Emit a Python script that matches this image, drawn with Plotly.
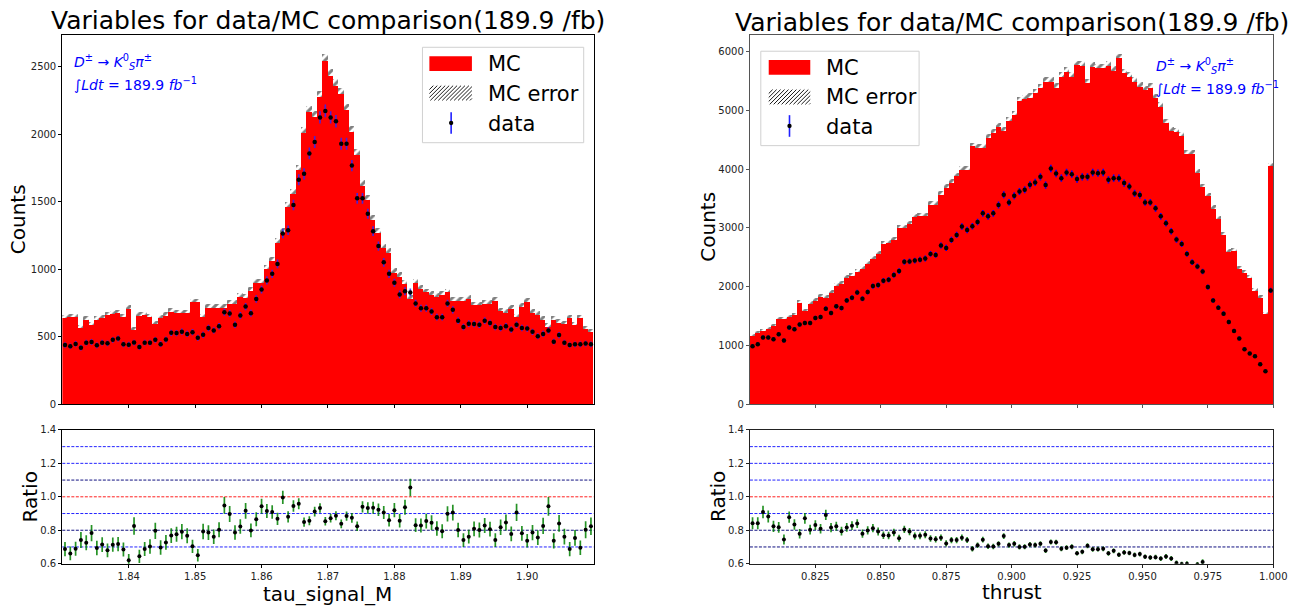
import numpy as np
import plotly.graph_objects as go

W, H = 1314, 610

# ---------------- data: tau_signal_M (left) ----------------
m_lo, m_hi, m_nbins = 1.83, 1.91, 100
mc_m = [640, 650, 650, 566, 630, 590, 630, 640, 665, 670,
        680, 650, 712, 555, 660, 665, 650, 600, 640, 660,
        690, 680, 680, 680, 760, 760, 650, 720, 720, 720,
        720, 750, 750, 800, 790, 845, 901, 901, 1003, 1064,
        1198, 1271, 1465, 1562, 1737, 2012, 2170, 2133, 2279, 2546,
        2437, 2364, 2303, 2182, 2024, 1853, 1623, 1514, 1373, 1271,
        1161, 1125, 979, 950, 894, 785, 901, 860, 833, 814,
        797, 814, 833, 773, 773, 773, 785, 736, 736, 748,
        748, 773, 692, 683, 712, 651, 724, 761, 683, 668,
        632, 580, 630, 610, 600, 640, 590, 640, 560, 540]
data_m = [440, 430, 448, 420, 457, 462, 437, 457, 452, 478,
          488, 445, 442, 458, 425, 457, 457, 478, 446, 480,
          530, 528, 538, 522, 535, 494, 515, 566, 548, 578,
          683, 673, 590, 658, 724, 675, 780, 850, 918, 967,
          1040, 1266, 1290, 1477, 1664, 1708, 1859, 1944, 2126, 2174,
          2126, 2097, 1931, 1931, 1769, 1526, 1526, 1412, 1283, 1173,
          1052, 967, 901, 814, 838, 829, 748, 712, 712, 688,
          646, 646, 748, 700, 620, 573, 598, 595, 590, 620,
          603, 573, 566, 578, 554, 590, 566, 561, 537, 505,
          522, 547, 464, 513, 457, 440, 445, 445, 450, 445]

# ---------------- data: thrust (right) ----------------
t_lo, t_hi, t_nbins = 0.80, 1.00, 100
mc_t = [1175, 1215, 1249, 1288, 1344, 1458, 1458, 1486, 1531, 1740,
        1588, 1723, 1768, 1836, 1825, 1904, 2023, 2062, 2164, 2192,
        2266, 2305, 2390, 2475, 2559, 2729, 2757, 2797, 3011, 3011,
        3068, 3192, 3209, 3209, 3407, 3407, 3576, 3689, 3774, 3887,
        4000, 4000, 4395, 4370, 4370, 4537, 4621, 4717, 4661, 4831,
        4932, 5169, 5203, 5226, 5299, 5384, 5497, 5497, 5395, 5582,
        5667, 5582, 5780, 5770, 5469, 5750, 5723, 5723, 5770, 5684,
        5893, 5638, 5582, 5497, 5412, 5356, 5395, 5215, 5073, 4791,
        4661, 4638, 4565, 4266, 4266, 3944, 3701, 3548, 3339, 3153,
        2887, 2605, 2616, 2305, 2249, 2164, 1938, 1825, 1542, 4056]
data_t = [989, 1023, 1136, 1136, 1107, 1192, 1085, 1305, 1277, 1356,
          1384, 1384, 1469, 1486, 1627, 1554, 1667, 1638, 1768, 1814,
          1904, 1797, 1910, 2011, 2028, 2102, 2119, 2198, 2266, 2424,
          2430, 2445, 2460, 2480, 2559, 2542, 2701, 2661, 2797, 2881,
          3023, 2966, 3028, 3102, 3249, 3198, 3249, 3390, 3565, 3435,
          3548, 3621, 3650, 3734, 3774, 3870, 3729, 4011, 3927, 3847,
          3944, 3915, 3831, 3870, 3870, 3944, 3932, 3944, 3819, 3847,
          3847, 3763, 3706, 3588, 3559, 3435, 3435, 3333, 3198, 3079,
          2944, 2802, 2729, 2559, 2418, 2345, 2260, 1994, 1768, 1644,
          1542, 1401, 1249, 1119, 938, 864, 819, 684, 565, 1938]

title_text = "Variables for data/MC comparison(189.9 /fb)"
m_ticks = [1.84, 1.85, 1.86, 1.87, 1.88, 1.89, 1.90]
t_ticks = [0.825, 0.850, 0.875, 0.900, 0.925, 0.950, 0.975, 1.000]
m_count_ticks = [0, 500, 1000, 1500, 2000, 2500]
t_count_ticks = [0, 1000, 2000, 3000, 4000, 5000, 6000]
ratio_ticks = [0.6, 0.8, 1.0, 1.2, 1.4]
ratio_lines = [0.7, 0.8, 0.9, 1.0, 1.1, 1.2, 1.3]

FONT = "DejaVu Sans"


def px(x):
    return x / W


def py(y):
    return 1 - y / H


fig = go.Figure()


def add_panel(lo, hi, nb, mc, data, xa, ya, xr, yr, data_err_color):
    bw = (hi - lo) / nb
    centers = lo + (np.arange(nb) + 0.5) * bw
    mc = np.asarray(mc, float)
    d = np.asarray(data, float)
    mc_err = np.sqrt(mc)
    d_err = np.sqrt(d)
    ratio = d / mc
    r_err = ratio * np.sqrt(1 / d + 1 / mc)
    fig.add_trace(go.Bar(x=centers, y=mc, width=bw, xaxis=xa, yaxis=ya,
                         marker=dict(color="#ff0000", line=dict(width=0)),
                         showlegend=False, hoverinfo="skip"))
    fig.add_trace(go.Bar(x=centers, y=mc_err, base=mc, width=bw, xaxis=xa, yaxis=ya,
                         marker=dict(color="white", line=dict(width=0),
                                     pattern=dict(shape="/", fgcolor="black", bgcolor="white",
                                                  size=6, solidity=0.5)),
                         showlegend=False, hoverinfo="skip"))
    fig.add_trace(go.Scatter(x=centers, y=d, mode="markers", xaxis=xa, yaxis=ya,
                             marker=dict(color="black", size=4.5),
                             error_y=dict(type="data", array=d_err, color=data_err_color,
                                          thickness=1.6, width=0),
                             showlegend=False))
    fig.add_trace(go.Scatter(x=centers, y=ratio, mode="markers", xaxis=xr, yaxis=yr,
                             marker=dict(color="black", size=4),
                             error_y=dict(type="data", array=r_err, color="rgba(0,128,0,0.85)",
                                          thickness=1.7, width=0),
                             showlegend=False))


add_panel(m_lo, m_hi, m_nbins, mc_m, data_m, "x", "y", "x2", "y2", "rgba(40,40,255,0.85)")
add_panel(t_lo, t_hi, t_nbins, mc_t, data_t, "x3", "y3", "x4", "y4", "#0000ff")

# geometry (pixels)
L = (63, 600)
R = (758, 1287)
TOP = (30, 406)
BOT = (432, 568)

tickfont = dict(family=FONT, size=10, color="#222")


def xaxis(dom, rng, ticks, fmt, labels, anchor, col):
    return dict(domain=[px(dom[0]), px(dom[1])], range=list(rng), anchor=anchor,
                tickmode="array", tickvals=ticks, tickformat=fmt,
                showticklabels=labels, ticks="outside", ticklen=3, tickcolor=col,
                showline=True, mirror=True, linecolor=col, linewidth=1.2,
                showgrid=False, zeroline=False, tickfont=tickfont)


def yaxis(dom, rng, ticks, fmt, anchor, col):
    return dict(domain=[py(dom[1]), py(dom[0])], range=list(rng), anchor=anchor,
                tickmode="array", tickvals=ticks, tickformat=fmt,
                ticks="outside", ticklen=3, tickcolor=col,
                showline=True, mirror=True, linecolor=col, linewidth=1.2,
                showgrid=False, zeroline=False, tickfont=tickfont)


fig.update_layout(
    width=W, height=H, margin=dict(l=0, r=0, t=0, b=0),
    paper_bgcolor="white", plot_bgcolor="white",
    barmode="overlay", bargap=0, showlegend=False,
    font=dict(family=FONT, color="black"),
    xaxis=xaxis(L, (m_lo, m_hi), m_ticks, ".2f", False, "y", "black"),
    yaxis=yaxis(TOP, (0, 2740), m_count_ticks, "d", "x", "black"),
    xaxis2=xaxis(L, (m_lo, m_hi), m_ticks, ".2f", True, "y2", "black"),
    yaxis2=yaxis(BOT, (0.6, 1.4), ratio_ticks, ".1f", "x2", "black"),
    xaxis3=xaxis(R, (t_lo, t_hi), t_ticks, ".3f", False, "y3", "#555"),
    yaxis3=yaxis(TOP, (0, 6290), t_count_ticks, "d", "x3", "#555"),
    xaxis4=xaxis(R, (t_lo, t_hi), t_ticks, ".3f", True, "y4", "#222"),
    yaxis4=yaxis(BOT, (0.6, 1.4), ratio_ticks, ".1f", "x4", "#222"),
)

shapes = []
annotations = []

# ratio reference lines
for xr_, yr_, dark in (("x2", "y2", (1.1, 0.8)), ("x4", "y4", (0.8, 0.7))):
    for v in ratio_lines:
        if abs(v - 1.0) < 1e-9:
            col = "#ff2020"
        elif any(abs(v - dv) < 1e-9 for dv in dark):
            col = "#101080"
        else:
            col = "#2424ff"
        shapes.append(dict(type="line", xref=f"{xr_} domain", yref=yr_, x0=0, x1=1, y0=v, y1=v,
                           line=dict(color=col, width=1, dash="3px,1.5px"), layer="below"))


def text(x, y, s, size, xanchor="center", yanchor="middle", color="black", angle=0):
    annotations.append(dict(x=px(x), y=py(y), xref="paper", yref="paper", text=s,
                            showarrow=False, xanchor=xanchor, yanchor=yanchor, textangle=angle,
                            font=dict(family=FONT, size=size, color=color)))


# titles and axis labels
text((L[0] + L[1]) / 2, 16, title_text, 25)
text((R[0] + R[1]) / 2, 18, title_text, 25)
text(19, 218, "Counts", 20, angle=-90)
text(716, 225, "Counts", 20, angle=-90)
text(30, 500, "Ratio", 20, angle=-90)
text(726, 500, "Ratio", 20, angle=-90)
text((L[0] + L[1]) / 2, 599, "tau_signal_M", 20)
text((R[0] + R[1]) / 2, 597, "thrust", 20)

# physics labels
lab1 = "<i>D</i><sup>±</sup> → <i>K</i><sup>0</sup><sub><i>S</i></sub><i>π</i><sup>±</sup>"
lab2 = "∫<i>Ldt</i> = 189.9 <i>fb</i><sup>−1</sup>"
text(73, 58, lab1, 14, xanchor="left", color="#0000ff")
text(73, 80, lab2, 14, xanchor="left", color="#0000ff")
text(1166, 62, lab1, 14, xanchor="left", color="#0000ff")
text(1166, 84, lab2, 14, xanchor="left", color="#0000ff")


def rect(x0, y0, x1, y1, **kw):
    shapes.append(dict(type="rect", xref="paper", yref="paper",
                       x0=px(x0), x1=px(x1), y0=py(y1), y1=py(y0), **kw))


def hatch(x0, y0, x1, y1, step=4.0):
    w, h = x1 - x0, y1 - y0
    path = ""
    t = -h
    while t < w:
        u0 = max(0.0, -t)
        u1 = min(h, w - t)
        if u1 > u0:
            ax, ay = x0 + t + u0, y1 - u0
            bx, by = x0 + t + u1, y1 - u1
            path += f"M{px(ax)},{py(ay)} L{px(bx)},{py(by)} "
        t += step
    shapes.append(dict(type="path", xref="paper", yref="paper", path=path,
                       line=dict(color="black", width=0.9)))


def legend(box, red, hat, dline, tx, ys):
    rect(*box, line=dict(color="#d0d0d0", width=1), fillcolor="rgba(255,255,255,0.85)")
    rect(*red, line=dict(width=0), fillcolor="#ff0000")
    hatch(*hat)
    lx, ly0, ly1, dy = dline
    shapes.append(dict(type="line", xref="paper", yref="paper", x0=px(lx), x1=px(lx),
                       y0=py(ly0), y1=py(ly1), line=dict(color="#2020ff", width=1.6)))
    shapes.append(dict(type="circle", xref="paper", yref="paper", x0=px(lx - 2.2), x1=px(lx + 2.2),
                       y0=py(dy + 2.2), y1=py(dy - 2.2), fillcolor="black", line=dict(width=0)))
    for s, yy in zip(["MC", "MC error", "data"], ys):
        text(tx, yy, s, 21, xanchor="left")


legend((427, 43, 590, 140), (434, 52, 477, 67), (434, 82, 477, 97), (456, 109, 131, 120), 491, (60, 90, 121))
legend((769, 47, 929, 143), (777, 56, 819, 71), (777, 86, 819, 101), (798, 112, 134, 123), 833, (64, 94, 124))

fig.update_layout(shapes=shapes, annotations=annotations)
fig.write_html("out.html")
